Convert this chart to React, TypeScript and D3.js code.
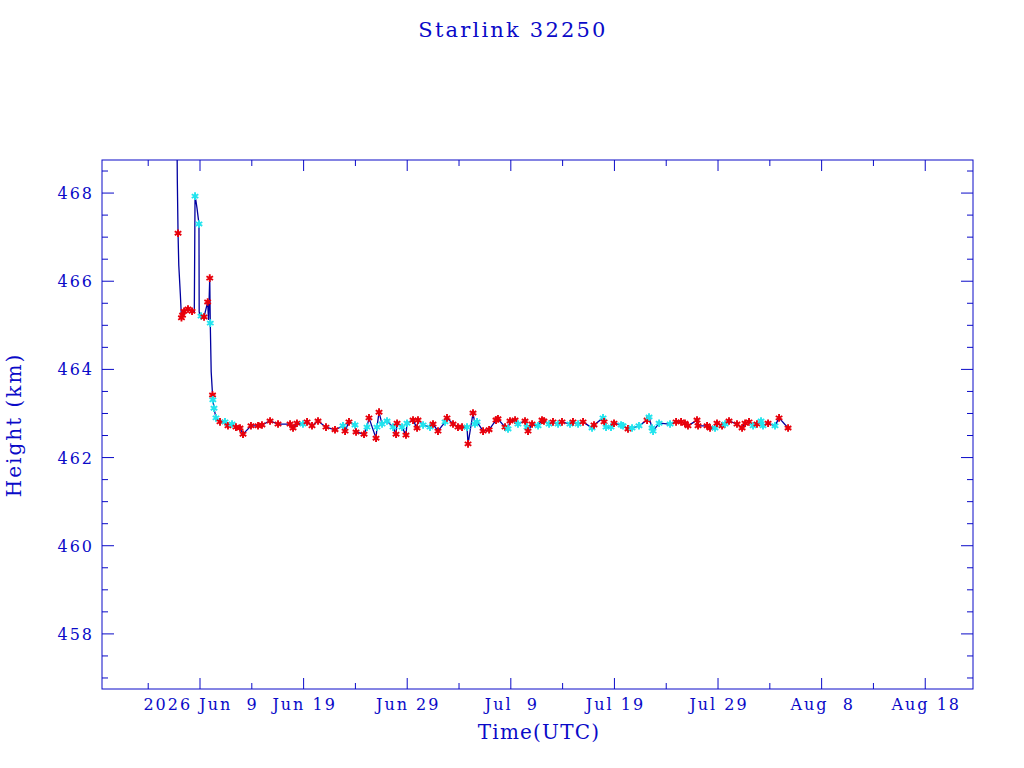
import * as d3 from "d3";
import React from "react";

const title = "Starlink 32250";
const xTitle = "Time(UTC)";
const yTitle = "Height (km)";

// epoch for the day offsets below (UTC midnight)
const epoch = Date.UTC(2026, 5, 9);
const xDomainDays = [-9.46, 74.61];
const yDomain = [456.75, 468.75];

const majorTickDays = [0, 10, 20, 30, 40, 50, 60, 70];
const majorTickLabels = ["2026 Jun  9", "Jun 19", "Jun 29", "Jul  9", "Jul 19", "Jul 29", "Aug  8", "Aug 18"];
const minorTickDays = [-5, 5, 15, 25, 35, 45, 55, 65];
const yTickValues = [458, 460, 462, 464, 466, 468];

// days since Jun 9 2026
const dayOffsets = [
  -2.22, -2.19, -2.12, -2.05, -1.9, -1.79, -1.69, -1.54, -1.16, -0.77,
  -0.55, -0.48, -0.39, -0.29, -0.1, -0.08, 0.1, 0.39, 0.74, 0.82,
  0.94, 0.99, 1.08, 1.21, 1.24, 1.35, 1.54, 1.93, 2.41, 2.7,
  3.09, 3.47, 3.86, 4.15, 4.92, 5.6, 5.98, 6.76, 7.53, 8.69,
  8.98, 9.36, 9.94, 10.33, 10.81, 11.39, 12.16, 13.03, 13.8, 14.0,
  14.38, 14.96, 15.06, 15.83, 16.12, 16.31, 16.99, 17.08, 17.28, 17.57,
  18.05, 18.63, 18.92, 19.02, 19.5, 19.88, 19.98, 20.56, 20.95, 21.04,
  21.53, 22.2, 22.49, 22.97, 23.65, 23.84, 24.42, 24.9, 25.29, 25.77,
  25.87, 26.35, 26.54, 26.74, 27.32, 27.9, 28.57, 28.76, 29.44, 29.73,
  29.92, 30.41, 30.69, 31.37, 31.56, 31.66, 32.05, 32.63, 33.01, 33.2,
  33.69, 34.07, 34.56, 34.94, 35.71, 36.0, 36.49, 36.97, 37.84, 38.03,
  38.9, 39.0, 39.19, 39.67, 39.96, 40.64, 40.83, 41.31, 41.7, 42.37,
  43.15, 43.34, 43.63, 43.73, 44.31, 45.37, 45.95, 46.43, 46.81, 47.1,
  47.97, 48.07, 48.94, 49.23, 49.71, 49.9, 50.39, 50.68, 51.06, 51.83,
  52.32, 52.61, 52.99, 53.38, 53.76, 54.15, 54.34, 54.83, 55.5, 55.89,
  56.76,
];

// height in km
const heights = [
  469.2, 468.29, 467.09, 466.37, 465.71, 465.17, 465.23, 465.32, 465.37, 465.32,
  465.3, 467.93, 467.82, 467.66, 467.3, 465.3, 465.21, 465.19, 465.53, 465.12,
  466.07, 465.05, 463.94, 463.42, 463.31, 463.12, 462.9, 462.81, 462.81, 462.72,
  462.76, 462.69, 462.67, 462.53, 462.72, 462.72, 462.74, 462.83, 462.76, 462.76,
  462.67, 462.78, 462.76, 462.81, 462.72, 462.83, 462.69, 462.63, 462.72, 462.6,
  462.81, 462.74, 462.58, 462.53, 462.69, 462.9, 462.44, 462.69, 463.03, 462.76,
  462.83, 462.69, 462.53, 462.78, 462.69, 462.51, 462.78, 462.85, 462.67, 462.85,
  462.74, 462.69, 462.76, 462.6, 462.81, 462.9, 462.76, 462.69, 462.69, 462.69,
  462.31, 463.01, 462.76, 462.81, 462.6, 462.63, 462.85, 462.88, 462.69, 462.65,
  462.83, 462.85, 462.76, 462.83, 462.69, 462.6, 462.76, 462.72, 462.85, 462.83,
  462.76, 462.81, 462.76, 462.81, 462.76, 462.81, 462.76, 462.81, 462.67, 462.74,
  462.9, 462.81, 462.69, 462.69, 462.78, 462.74, 462.72, 462.65, 462.67, 462.72,
  462.85, 462.92, 462.67, 462.6, 462.78, 462.76, 462.81, 462.81, 462.78, 462.72,
  462.85, 462.72, 462.72, 462.67, 462.67, 462.78, 462.72, 462.76, 462.83, 462.76,
  462.67, 462.78, 462.81, 462.72, 462.76, 462.83, 462.72, 462.78, 462.72, 462.9,
  462.67,
];

// marker colour per point: r = red, c = cyan, n = line only
const markerKinds = [
  "n", "n", "r", "n", "n", "r", "r", "r", "r", "r",
  "n", "c", "n", "n", "c", "n", "c", "r", "r", "n",
  "r", "c", "n", "r", "c", "c", "c", "r", "c", "r",
  "c", "r", "r", "r", "r", "r", "r", "r", "r", "r",
  "r", "r", "c", "r", "r", "r", "r", "r", "c", "r",
  "r", "c", "r", "r", "c", "r", "r", "c", "r", "c",
  "c", "c", "r", "r", "c", "r", "c", "r", "r", "r",
  "c", "c", "r", "r", "c", "r", "r", "r", "r", "c",
  "r", "r", "c", "c", "r", "r", "r", "r", "r", "c",
  "r", "r", "c", "r", "c", "r", "r", "c", "r", "r",
  "c", "r", "c", "r", "c", "r", "c", "r", "c", "r",
  "c", "r", "c", "c", "r", "c", "c", "r", "c", "c",
  "r", "c", "c", "c", "c", "c", "r", "r", "r", "r",
  "r", "r", "r", "r", "c", "r", "r", "c", "r", "r",
  "r", "r", "r", "c", "r", "c", "c", "r", "c", "r",
  "r",
];

const W = 1024;
const H = 768;
const margin = { top: 160, right: 51, bottom: 79, left: 102 };
const ink = "#0a0ac8";
const font = "'DejaVu Serif', 'Liberation Serif', serif";

const toDate = (d: number) => new Date(epoch + d * 864e5);

export default function App() {
  const x = d3
    .scaleUtc()
    .domain(xDomainDays.map(toDate))
    .range([margin.left, W - margin.right]);
  const y = d3
    .scaleLinear()
    .domain(yDomain)
    .range([H - margin.bottom, margin.top]);

  const x0 = margin.left;
  const x1 = W - margin.right;
  const y0 = H - margin.bottom;
  const y1 = margin.top;

  const points = dayOffsets.map((d, i) => ({
    t: toDate(d),
    h: heights[i],
    k: markerKinds[i],
  }));

  const line = d3
    .line<{ t: Date; h: number }>()
    .x((p) => x(p.t))
    .y((p) => y(p.h));

  const star = d3.symbol(d3.symbolAsterisk, 40)()!;

  const yMinor = d3.range(457, 468.75, 0.5).filter((v) => v % 2 !== 0);

  return (
    <svg
      width={W}
      height={H}
      style={{ position: "absolute", left: 0, top: 0, background: "#fff" }}
      fontFamily={font}
    >
      <defs>
        <clipPath id="plot">
          <rect x={x0} y={y1} width={x1 - x0} height={y0 - y1} />
        </clipPath>
      </defs>

      <text x={513} y={37} textAnchor="middle" fontSize={21} letterSpacing={2.2} fill={ink}>
        {title}
      </text>

      {/* data */}
      <g clipPath="url(#plot)">
        <path d={line(points) || ""} fill="none" stroke="#0000a0" strokeWidth={1.3} />
        {points
          .filter((p) => p.k !== "n")
          .map((p, i) => (
            <path
              key={i}
              d={star}
              transform={`translate(${x(p.t)},${y(p.h)})`}
              fill="none"
              stroke={p.k === "r" ? "#e8000b" : "#22e4ee"}
              strokeWidth={1.9}
            />
          ))}
      </g>

      {/* frame */}
      <rect x={x0} y={y1} width={x1 - x0} height={y0 - y1} fill="none" stroke={ink} strokeWidth={1} />

      {/* x ticks */}
      {majorTickDays.map((d, i) => {
        const px = x(toDate(d));
        return (
          <g key={"xM" + d}>
            <line x1={px} x2={px} y1={y0} y2={y0 - 11} stroke={ink} />
            <line x1={px} x2={px} y1={y1} y2={y1 + 11} stroke={ink} />
            <text
              x={px + 1}
              y={710}
              textAnchor="middle"
              fontSize={16}
              letterSpacing={2}
              fill={ink}
              style={{ whiteSpace: "pre" }}
            >
              {majorTickLabels[i]}
            </text>
          </g>
        );
      })}
      {minorTickDays.map((d) => {
        const px = x(toDate(d));
        return (
          <g key={"xm" + d}>
            <line x1={px} x2={px} y1={y0} y2={y0 - 6} stroke={ink} />
            <line x1={px} x2={px} y1={y1} y2={y1 + 6} stroke={ink} />
          </g>
        );
      })}

      {/* y ticks */}
      {yTickValues.map((v) => {
        const py = y(v);
        return (
          <g key={"yM" + v}>
            <line x1={x0} x2={x0 + 12} y1={py} y2={py} stroke={ink} />
            <line x1={x1} x2={x1 - 12} y1={py} y2={py} stroke={ink} />
            <text x={94} y={py + 6} textAnchor="end" fontSize={16} letterSpacing={2} fill={ink}>
              {v}
            </text>
          </g>
        );
      })}
      {yMinor.map((v) => {
        const py = y(v);
        return (
          <g key={"ym" + v}>
            <line x1={x0} x2={x0 + 6} y1={py} y2={py} stroke={ink} />
            <line x1={x1} x2={x1 - 6} y1={py} y2={py} stroke={ink} />
          </g>
        );
      })}

      <text x={539} y={739} textAnchor="middle" fontSize={20} letterSpacing={1.2} fill={ink}>
        {xTitle}
      </text>
      <text
        transform={`translate(21,425) rotate(-90)`}
        textAnchor="middle"
        fontSize={20}
        letterSpacing={2}
        fill={ink}
      >
        {yTitle}
      </text>
    </svg>
  );
}
